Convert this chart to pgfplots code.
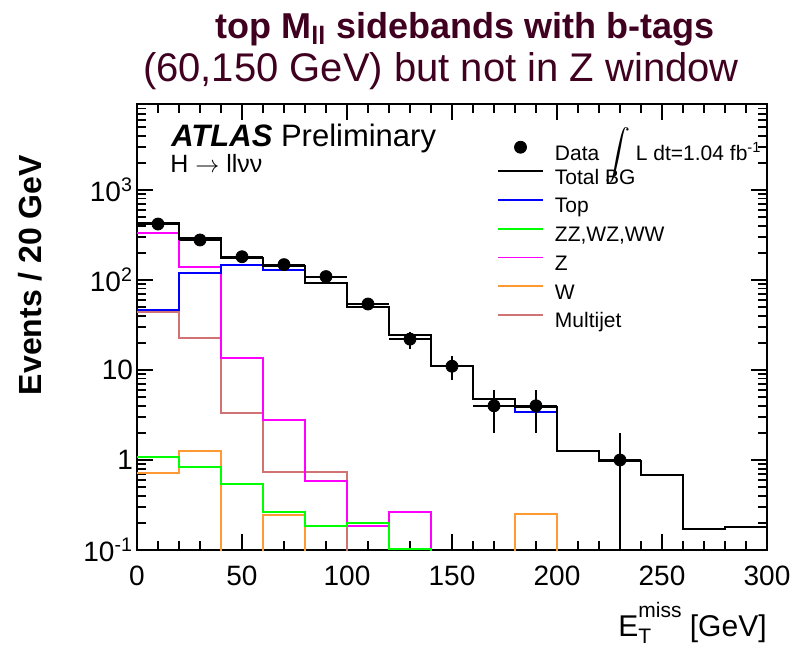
\documentclass[border=0pt]{standalone}
\usepackage{pgfplots}
\pgfplotsset{compat=1.18}
\usepackage{pgfplotstable}
\usepackage{fontspec}
\setmainfont{Liberation Sans}

\definecolor{titlecol}{RGB}{64,0,32}
\definecolor{topblue}{RGB}{0,0,255}
\definecolor{dibgreen}{RGB}{0,255,0}
\definecolor{zmagenta}{RGB}{255,0,255}
\definecolor{worange}{RGB}{255,153,51}
\definecolor{qcdsalmon}{RGB}{210,115,115}

\pgfplotsset{
  histline/.style={legend image code/.code={\draw[color=#1, line width=0.9pt] (0pt,3.7pt) -- (22.5pt,3.7pt);}},
  datadot/.style={legend image code/.code={\fill[black] (11.25pt,1.4pt) circle (3pt);}},
}

% histograms: left bin edge, content (1e-3 = empty bin, below the axis)
\pgfplotstableread{
x y
0 425
20 289
40 176
60 143
80 93
100 50
120 24.5
140 11.1
160 4.76
180 3.9
200 1.26
220 0.975
240 0.676
260 0.17
280 0.18
300 0.18
}\totalbg
\pgfplotstableread{
x y
0 46
20 119
40 147
60 129
80 92
100 49.5
120 24.2
140 11.0
160 4.7
180 3.41
200 1.26
220 0.975
240 0.676
260 0.17
280 0.18
300 0.18
}\topbg
\pgfplotstableread{
x y
0 1.09
20 0.84
40 0.537
60 0.264
80 0.185
100 0.2
120 0.103
140 0.001
}\dibosonbg
\pgfplotstableread{
x y
0 330
20 140
40 13.6
60 2.78
80 0.59
100 0.185
120 0.264
140 0.001
}\zbg
\pgfplotstableread{
x y
0 0.71
20 1.25
40 0.001
60 0.243
80 0.001
180 0.253
200 0.001
}\wbg
\pgfplotstableread{
x y
0 44
20 22.9
40 3.36
60 0.74
80 0.74
100 0.001
}\qcdbg
% data: bin centre, counts, half bin width, Poisson errors
\pgfplotstableread{
x y ex eyp eym
10 418 10 20.4 20.4
30 278 10 16.7 16.7
50 181 10 13.5 13.5
70 148 10 12.2 12.2
90 109 10 10.4 10.4
110 54 10 7.3 7.3
130 22 10 4.7 4.7
150 11 10 3.3 3.3
170 4 10 2 2
190 4 10 2 2
230 1 10 1 0.9999
}\datatab

\begin{document}
\begin{tikzpicture}
\useasboundingbox (-68.5pt,-47.5pt) rectangle (330.5pt,275pt);
\begin{axis}[
  scale only axis, width=315pt, height=223pt,
  xmin=0, xmax=300, ymin=0.1, ymax=9000, ymode=log,
  axis line style={line width=1pt},
  every tick/.style={black, line width=0.8pt},
  major tick length=8pt, minor tick length=4.5pt,
  xtick={0,50,100,150,200,250,300},
  xticklabels={0,50,100,150,200,250,300},
  minor x tick num=4,
  ytick={0.1,1,10,100,1000},
  yticklabels={10\textsuperscript{-1},1,10,10\textsuperscript{2},10\textsuperscript{3}},
  minor ytick={0.2,0.3,0.4,0.5,0.6,0.7,0.8,0.9,2,3,4,5,6,7,8,9,20,30,40,50,60,70,80,90,200,300,400,500,600,700,800,900,2000,3000,4000,5000,6000,7000,8000,9000},
  xticklabel style={font=\fontsize{14}{16}\selectfont, yshift=-4.5pt},
  yticklabel style={font=\fontsize{14}{16}\selectfont, xshift=1.5pt},
  legend cell align=left,
  legend style={draw=none, fill=none, at={(0.571,0.919)}, anchor=north west,
    inner sep=0pt, row sep=4.85pt, column sep=5.5pt,
    font=\fontsize{10.5}{12}\selectfont,
    nodes={inner sep=0pt, text height=7.5pt, text depth=2pt}},
]
\addlegendimage{datadot}
\addlegendentry{\raisebox{-2.3pt}{Data \smash{\raisebox{-1pt}{\scalebox{1.25}{$\displaystyle\int$}}} L dt=1.04 fb\textsuperscript{-1}}}
\addlegendimage{histline=black}
\addlegendentry{Total BG}
\addlegendimage{histline=topblue}
\addlegendentry{Top}
\addlegendimage{histline=dibgreen}
\addlegendentry{ZZ,WZ,WW}
\addlegendimage{histline=zmagenta}
\addlegendentry{Z}
\addlegendimage{histline=worange}
\addlegendentry{W}
\addlegendimage{histline=qcdsalmon}
\addlegendentry{Multijet}

\addplot[forget plot, const plot mark left, no marks, qcdsalmon, line width=1pt] table {\qcdbg};
\addplot[forget plot, const plot mark left, no marks, worange, line width=1pt] table {\wbg};
\addplot[forget plot, const plot mark left, no marks, zmagenta, line width=1pt] table {\zbg};
\addplot[forget plot, const plot mark left, no marks, dibgreen, line width=1pt] table {\dibosonbg};
\addplot[forget plot, const plot mark left, no marks, topblue, line width=1pt] table {\topbg};
\addplot[forget plot, const plot mark left, no marks, black, line width=1.1pt] table {\totalbg};
\addplot[forget plot, only marks, mark=*, mark size=3pt, black,
  error bars/.cd, x dir=both, x explicit, y dir=both, y explicit,
  error mark=none, error bar style={line width=1pt, black}]
  table[x=x, y=y, x error=ex, y error plus=eyp, y error minus=eym] {\datatab};
\end{axis}

\node[inner sep=0pt, anchor=base west, font=\fontsize{15.5}{18}\selectfont] at (17pt,201.7pt)
  {\textbf{\textit{ATLAS}} Preliminary};
\node[inner sep=0pt, anchor=base west, font=\fontsize{12.5}{14}\selectfont] at (16.5pt,188.6pt)
  {H $\rightarrow$ llνν};
\node[inner sep=0pt, anchor=base, text=titlecol, font=\bfseries\fontsize{18}{21}\selectfont] at (164pt,256pt)
  {top M\textsubscript{ll} sidebands with b-tags};
\node[inner sep=0pt, anchor=base, text=titlecol, font=\fontsize{20}{23}\selectfont] at (152pt,234.5pt)
  {(60,150 GeV) but not in Z window};
\node[inner sep=0pt, anchor=base, rotate=90, font=\bfseries\fontsize{16}{18}\selectfont] at (-47.5pt,137.5pt)
  {Events / 20 GeV};
\node[inner sep=0pt, anchor=base east, font=\fontsize{15}{17}\selectfont] at (315pt,-43pt)
  {E\rlap{\raisebox{-0.25em}{\fontsize{10.5}{11}\selectfont T}}\raisebox{0.62em}{\fontsize{10.5}{11}\selectfont miss} [GeV]};
\end{tikzpicture}
\end{document}
